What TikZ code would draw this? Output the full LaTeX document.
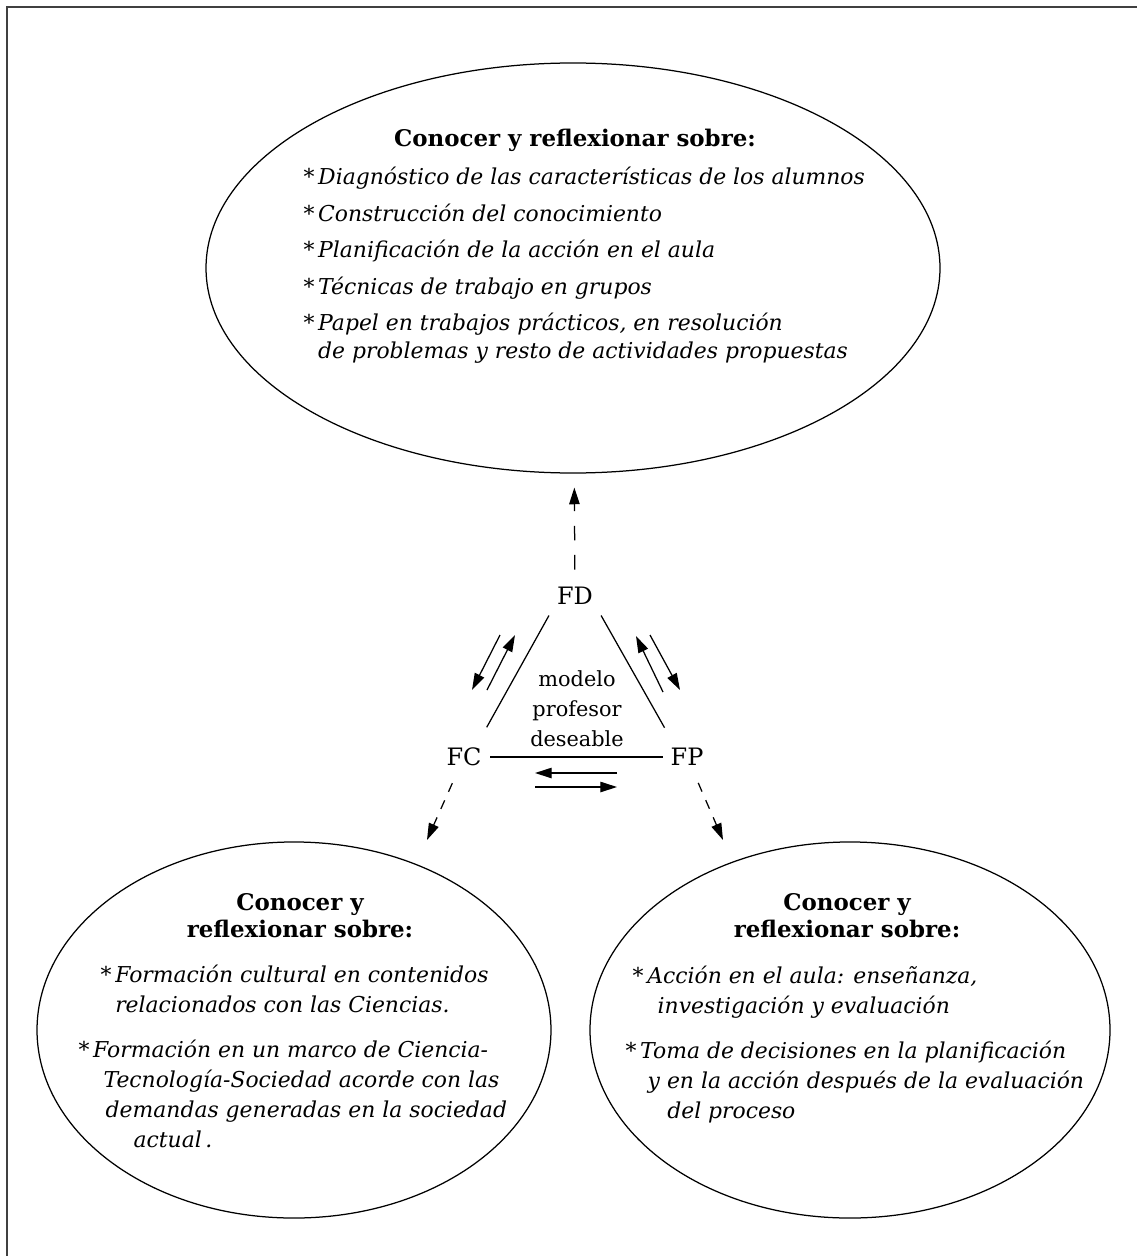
\documentclass[tikz,border=0pt]{standalone}
\usepackage{fontspec}
\setmainfont{DejaVu Serif}
\usetikzlibrary{arrows.meta, shapes.geometric, calc}

\newcommand{\st}{\textup{*}\,}
\newcommand{\nost}{\phantom{\st}}

\begin{document}
\begin{tikzpicture}[
            x = 0.48pt, y = -0.48pt, % pixel grid, y going down
            > = {Triangle[length=8pt, width=5pt]}, % arrow head style
            semithick % line style
        ]

        \tikzstyle{vertex}=[
            font = \fontsize{11.5}{14}\selectfont,
            inner sep = 2pt
        ]
        \tikzstyle{cloud}=[draw, ellipse, inner sep = 0pt]
        \tikzstyle{heading}=[font = \bfseries\fontsize{11}{13}\selectfont, inner sep = 0pt, anchor = base]
        \tikzstyle{items}=[font = \itshape\fontsize{10.5}{13.5}\selectfont, inner sep = 0pt, anchor = base west]
        \tikzstyle{link}=[->, dash pattern = on 4.5pt off 4.5pt]

        \useasboundingbox (0,0) rectangle (1137,1256);
        \draw[line width = 1pt, black!75] (7,1256) -- (7,7) -- (1137,7);

        % the three fields
        \node[cloud, minimum width = 352.3pt, minimum height = 196.8pt] (fd-cloud) at (573,268) {};
        \node[cloud, minimum width = 246.7pt, minimum height = 180.5pt] (fc-cloud) at (294,1030) {};
        \node[cloud, minimum width = 249.6pt, minimum height = 180.5pt] (fp-cloud) at (850,1030) {};

        \node[heading] (fd-head) at (575,147) {Conocer y reflexionar sobre:};
        \node[items] (fd-list) at (303,185) {\begin{tabular}[t]{@{}l@{}}
            \st Diagnóstico de las características de los alumnos\\[4pt]
            \st Construcción del conocimiento\\[4pt]
            \st Planificación de la acción en el aula\\[4pt]
            \st Técnicas de trabajo en grupos\\[4pt]
            \st Papel en trabajos prácticos, en resolución\\
            \nost de problemas y resto de actividades propuestas
        \end{tabular}};

        \node[heading] (fc-head) at (300,910) {\begin{tabular}[t]{@{}c@{}}Conocer y\\reflexionar sobre:\end{tabular}};
        \node[items, font = \itshape\fontsize{10.5}{14.4}\selectfont] (fc-list) at (78,982) {\begin{tabular}[t]{@{}l@{}}
            \hspace*{10.6pt}\st Formación cultural en contenidos\\
            \hspace*{10.6pt}\nost relacionados con las Ciencias.\\[7.2pt]
            \st Formación en un marco de Ciencia-\\
            \hspace*{12pt}Tecnología-Sociedad acorde con las\\
            \hspace*{13pt}demandas generadas en la sociedad\\
            \hspace*{26.4pt}actual\,.
        \end{tabular}};

        \node[heading] (fp-head) at (847,910) {\begin{tabular}[t]{@{}c@{}}Conocer y\\reflexionar sobre:\end{tabular}};
        \node[items, font = \itshape\fontsize{10.5}{14.4}\selectfont] (fp-list) at (625,983) {\begin{tabular}[t]{@{}l@{}}
            \hspace*{3.4pt}\st Acción en el aula: enseñanza,\\
            \hspace*{15.4pt}investigación y evaluación\\[7.2pt]
            \st Toma de decisiones en la planificación\\
            \hspace*{10.6pt}y en la acción después de la evaluación\\
            \hspace*{20pt}del proceso
        \end{tabular}};

        % the triangle
        \node[vertex] (FD) at (575,596) {FD};
        \node[vertex] (FC) at (464,757) {FC};
        \node[vertex] (FP) at (687,757) {FP};
        \node[font = \fontsize{10}{14.5}\selectfont, inner sep = 0pt, anchor = base] (modelo) at (577,686)
            {\begin{tabular}[t]{@{}c@{}}modelo\\profesor\\deseable\end{tabular}};

        \draw[shorten < = 3.3pt, shorten > = 8.7pt] (FD.south west) -- (FC.45);
        \draw[shorten < = 3.3pt, shorten > = 8.7pt] (FD.south east) -- (FP.135);
        \draw[shorten < = 2pt, shorten > = 1.5pt] (FC.east) -- (FP.west);

        \draw[->] ($(FD)+(-75,39)$) -- ($(FD)+(-103,94)$);
        \draw[->] ($(FC)+(23,-67)$) -- ($(FC)+(51,-122)$);
        \draw[->] ($(FP)+(-24,-65)$) -- ($(FP)+(-51,-121)$);
        \draw[->] ($(FD)+(75,39)$) -- ($(FD)+(105,94)$);
        \draw[->] ($(FP)+(-70,16)$) -- ($(FC)+(71,16)$);
        \draw[->] ($(FC)+(71,30)$) -- ($(FP)+(-70,30)$);

        % towards the fields
        \coordinate (fc-tip) at (427,840);
        \coordinate (fp-tip) at (723,840);
        \draw[link, dash pattern = on 7pt off 7pt, shorten < = 6.2pt, shorten > = 6.7pt] (FD) -- (fd-cloud);
        \draw[link, shorten < = 6.5pt] (FC) -- (fc-tip);
        \draw[link, shorten < = 6.5pt] (FP) -- (fp-tip);
\end{tikzpicture}
\end{document}
